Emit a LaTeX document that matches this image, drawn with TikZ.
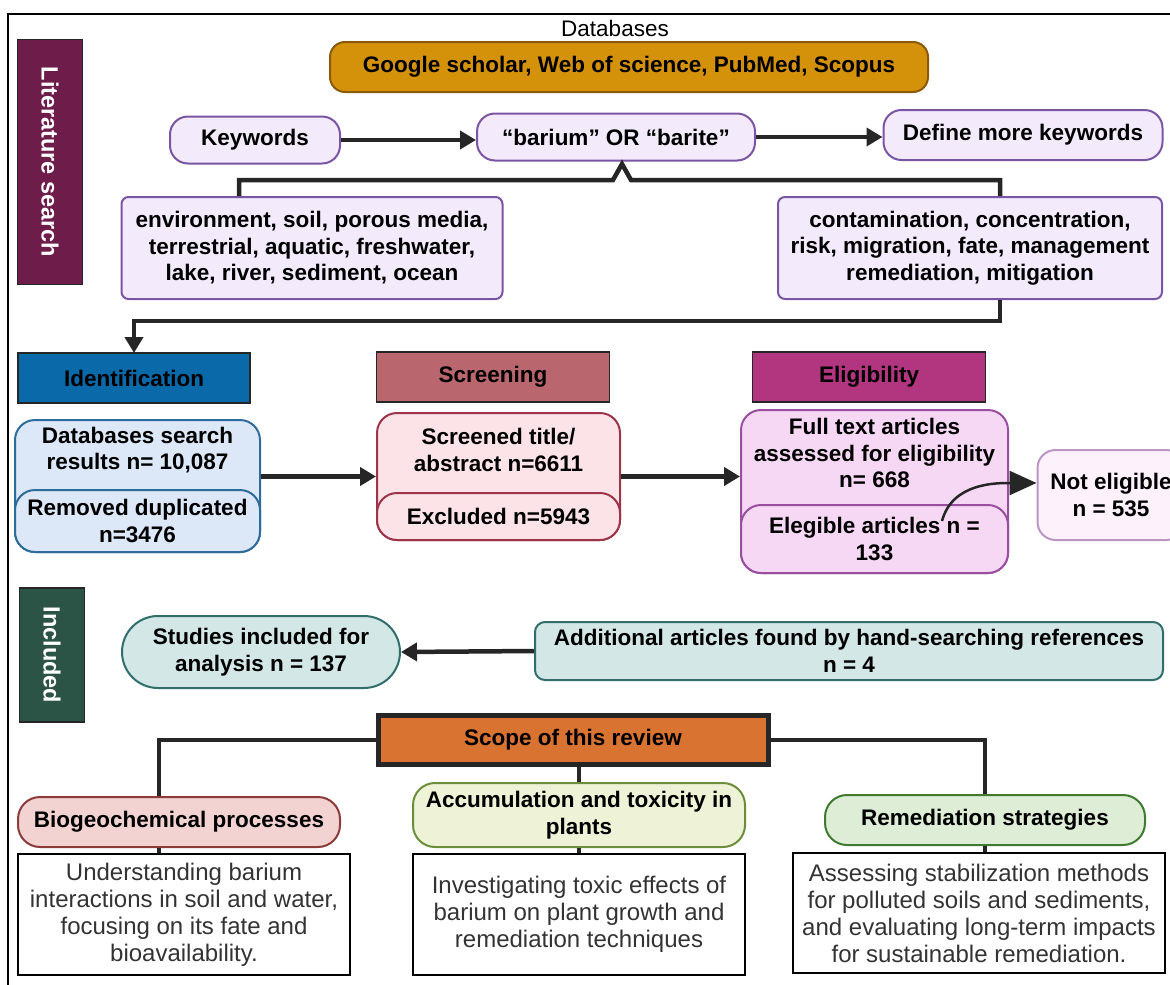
\documentclass[tikz,border=0pt]{standalone}
\usepackage{fontspec}
\setmainfont{Liberation Sans}
\usetikzlibrary{arrows.meta,calc,positioning}

\definecolor{litcol}{HTML}{6E1D4B}
\definecolor{dbfill}{HTML}{D4920B}
\definecolor{dbline}{HTML}{8A5A0A}
\definecolor{kwfill}{HTML}{F3EBFB}
\definecolor{kwline}{HTML}{7A55A3}
\definecolor{idcol}{HTML}{0A69A8}
\definecolor{idfill}{HTML}{DCE7F7}
\definecolor{idline}{HTML}{2E6C9C}
\definecolor{scrcol}{HTML}{B9666F}
\definecolor{scrfill}{HTML}{FCE3E8}
\definecolor{scrline}{HTML}{9E3449}
\definecolor{elcol}{HTML}{B2357F}
\definecolor{elfill}{HTML}{F6D8F5}
\definecolor{elline}{HTML}{9A4E9F}
\definecolor{nefill}{HTML}{FDF2FC}
\definecolor{neline}{HTML}{B997C2}
\definecolor{incol}{HTML}{2C5446}
\definecolor{stfill}{HTML}{D3E7E6}
\definecolor{stline}{HTML}{2F6E6B}
\definecolor{scopecol}{HTML}{D97331}
\definecolor{biofill}{HTML}{F3D3D2}
\definecolor{bioline}{HTML}{8A3B3A}
\definecolor{accfill}{HTML}{EEF2D7}
\definecolor{accline}{HTML}{6C8E3B}
\definecolor{remfill}{HTML}{DDEDD6}
\definecolor{remline}{HTML}{3F7A30}
\definecolor{linecol}{HTML}{262626}
\definecolor{desctext}{HTML}{333333}

\begin{document}
\begin{tikzpicture}[x=1pt,y=-1pt,
  font=\fontsize{22.5}{26.5}\selectfont\bfseries,
  every node/.style={align=center, inner sep=0pt},
  phase/.style={draw=linecol, line width=1.2pt, minimum height=50pt},
  side/.style={draw=linecol, line width=1.2pt, text=white, rotate=-90, minimum height=65pt,
    font=\fontsize{23.5}{27}\selectfont\bfseries},
  kwbox/.style={draw=kwline, fill=kwfill, line width=2pt, rounded corners=18pt, minimum height=47pt},
  kwlist/.style={draw=kwline, fill=kwfill, line width=2pt, rounded corners=7pt, minimum height=102pt},
  stage/.style={line width=2pt, rounded corners=20pt},
  scopebox/.style={line width=2pt, rounded corners=22pt, minimum height=50pt},
  desc/.style={draw=black, line width=2.5pt, fill=white, minimum width=332pt, minimum height=121pt,
    font=\fontsize{24}{27}\selectfont\mdseries, text=desctext},
  conn/.style={draw=linecol, line width=4.5pt},
  arr/.style={conn, -{Triangle[length=16pt,width=18pt]}}]

\useasboundingbox (0,0) rectangle (1170,985);
\draw[line width=1.5pt] (8,995) |- (1180,14);

% literature search
\node[side, fill=litcol, minimum width=245pt] (lit) at (50,162) {Literature search};
\node (dbtitle) at (615,28) {\mdseries Databases};
\node[draw=dbline, fill=dbfill, line width=2pt, rounded corners=15pt, minimum width=598pt, minimum height=50pt] (db) at (629,67) {Google scholar, Web of science, PubMed, Scopus};
\node[kwbox, minimum width=170pt] (kw) at (255,140) {Keywords};
\node[kwbox, minimum width=278pt] (barium) at (616,137) {“barium” OR “barite”};
\node[kwbox, minimum width=279pt, minimum height=50pt] (define) at (1023,135) {Define more keywords};
\node[kwlist, minimum width=381pt] (envkw) at (312,248) {environment, soil, porous media,\\ terrestrial, aquatic, freshwater,\\ lake, river, sediment, ocean};
\node[kwlist, minimum width=384pt] (riskkw) at (970,248) {contamination, concentration,\\ risk, migration, fate, management\\ remediation, mitigation};

\draw[arr] (kw.east) -- (kw.east -| barium.west);
\draw[arr] (barium.east) -- (barium.east -| define.west);

\coordinate (join) at (622,180);
\coordinate (envfoot) at ($(envkw.north west)!0.31!(envkw.north east)$);
\coordinate (riskfoot) at ($(riskkw.north west)!0.578!(riskkw.north east)$);
\draw[conn, line join=miter] (envfoot) |- ($(join)+(-9,0)$) -- ($(join)+(0,-16)$) -- ($(join)+(9,0)$) -| (riskfoot);
\draw[arr] ($(riskkw.south west)!0.578!(riskkw.south east)$) -- ++(0,21) -| (134,353);

% phases
\node[phase, fill=idcol, minimum width=232pt] (ident) at (134,378) {Identification};
\node[phase, fill=scrcol, minimum width=233pt] (screen) at (493,377) {Screening};
\node[phase, fill=elcol, minimum width=233pt] (elig) at (869,377) {Eligibility};

\node[stage, draw=idline, fill=idfill, minimum width=245pt, minimum height=132pt] (idbox) at (137.5,486) {};
\node (idtop) at (137.5,450) {Databases search\\ results n= 10,087};
\node[stage, draw=idline, fill=idfill, minimum width=245pt, minimum height=62pt] (iddup) at (137.5,521) {Removed duplicated\\ n=3476};

\node[stage, draw=scrline, fill=scrfill, minimum width=243pt, minimum height=127pt] (scrbox) at (498.5,476.5) {};
\node (scrtop) at (498.5,450) {Screened title/\\ abstract n=6611};
\node[stage, draw=scrline, fill=scrfill, minimum width=243pt, minimum height=47pt] (screxc) at (498.5,516.5) {Excluded n=5943};

\node[stage, draw=elline, fill=elfill, minimum width=267pt, minimum height=163pt] (elbox) at (874.5,491.5) {};
\node (eltop) at (874.5,453) {Full text articles\\ assessed for eligibility\\ n= 668};
\node[stage, draw=elline, fill=elfill, minimum width=267pt, minimum height=68pt] (elok) at (874.5,539) {Elegible articles n =\\ 133};

\node[draw=neline, fill=nefill, line width=2pt, rounded corners=18pt, minimum width=147pt, minimum height=90pt] (notel) at (1111,495) {Not eligible\\ n = 535};

\draw[arr] (idbox.east |- scrbox.west) -- (scrbox.west);
\draw[arr] (scrbox.east) -- (scrbox.east -| elbox.west);
\coordinate (curvestart) at (942,521);
\draw[draw=linecol, line width=2.5pt, -{Triangle[length=27pt,width=24pt]}] (curvestart) to[out=75,in=180] (notel.west |- 0,483);

% included
\node[side, fill=incol, minimum width=134pt] (incl) at (52,655) {Included};
\node[draw=stline, fill=stfill, line width=2pt, rounded corners=36pt, minimum width=278pt, minimum height=72pt] (studies) at (261,652) {Studies included for\\ analysis n = 137};
\node[draw=stline, fill=stfill, line width=2pt, rounded corners=10pt, minimum width=628pt, minimum height=58pt] (added) at (849,651) {Additional articles found by hand-searching references\\ n = 4};
\draw[arr] (added.west) -- (studies.east);

% scope
\node[draw=linecol, fill=scopecol, line width=5pt, minimum width=390pt, minimum height=49pt] (scope) at (573,740) {Scope of this review};
\node[scopebox, draw=bioline, fill=biofill, minimum width=322pt] (bio) at (179,822) {Biogeochemical processes};
\node[scopebox, draw=accline, fill=accfill, minimum width=332pt, minimum height=64pt] (acc) at (579,815) {Accumulation and toxicity in\\ plants};
\node[scopebox, draw=remline, fill=remfill, minimum width=320pt] (rem) at (985,820) {Remediation strategies};

\node[desc] (biodesc) at (184,914.5) {Understanding barium\\ interactions in soil and water,\\ focusing on its fate and\\ bioavailability.};
\node[desc] (accdesc) at (579,914.5) {Investigating toxic effects of\\ barium on plant growth and\\ remediation techniques};
\node[desc, minimum width=372pt, minimum height=120pt] (remdesc) at (979,913) {Assessing stabilization methods\\ for polluted soils and sediments,\\ and evaluating long-term impacts\\ for sustainable remediation.};

\coordinate (biostem) at ($(bio.north)+(-20,0)$);
\draw[conn] (scope.west) -| (biostem);
\draw[conn] (scope.east) -| (rem.north);
\draw[conn] (acc.north |- scope.south) -- (acc.north);
\draw[conn] ($(bio.south)+(-20,0)$) -- ($(biodesc.north)+(-25,0)$);
\draw[conn] (acc.south) -- (accdesc.north);
\draw[conn] (rem.south) -- (rem.south |- remdesc.north);
\end{tikzpicture}
\end{document}
